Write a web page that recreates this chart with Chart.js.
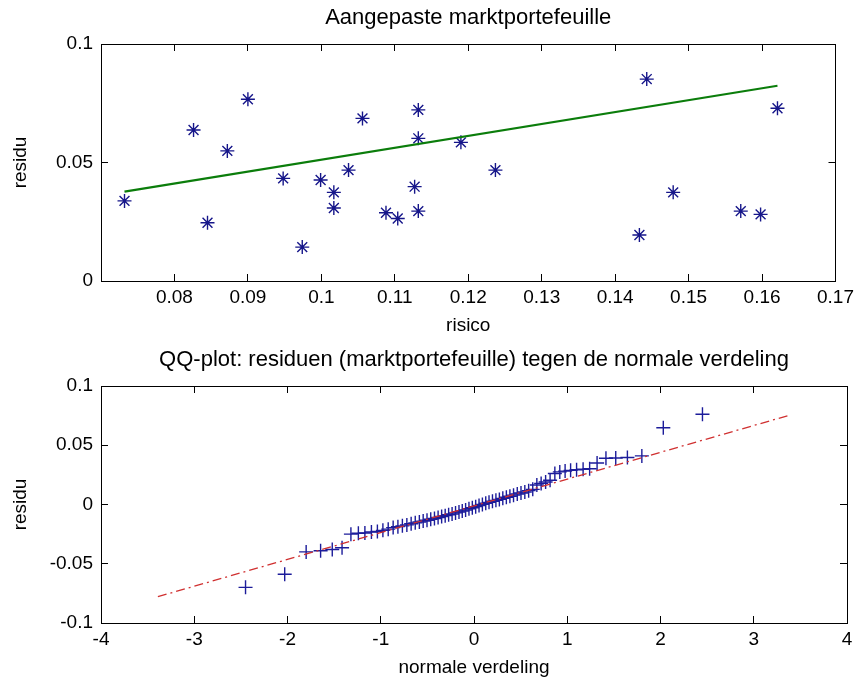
<!DOCTYPE html>
<html>
<head>
<meta charset="utf-8">
<title>Aangepaste marktportefeuille</title>
<script src="https://cdn.jsdelivr.net/npm/chart.js@4.4.1/dist/chart.umd.min.js"></script>
<style>
  body { margin: 0; background: #fff; }
  canvas { display: block; }
</style>
</head>
<body>
<canvas id="fitChart" width="866" height="342"></canvas>
<canvas id="qqChart" width="866" height="342"></canvas>
<script>
// top plot: risico vs residu
const risico = [0.0732, 0.0826, 0.0845, 0.0872, 0.0900, 0.0948, 0.0974, 0.0999, 0.1017, 0.1017,
  0.1037, 0.1056, 0.1088, 0.1104, 0.1127, 0.1132, 0.1132, 0.1132, 0.1190, 0.1237,
  0.1443, 0.1433, 0.1479, 0.1571, 0.1598, 0.1621];
const residu = [0.0338, 0.0637, 0.0246, 0.0549, 0.0767, 0.0433, 0.0143, 0.0426, 0.0374, 0.0308,
  0.0468, 0.0686, 0.0288, 0.0264, 0.0398, 0.0722, 0.0602, 0.0295, 0.0585, 0.0468,
  0.0852, 0.0194, 0.0374, 0.0295, 0.0281, 0.0729];
const fitX = [0.0732, 0.1621];
const fitY = [0.0377, 0.0824];
const riskTicks = [0.08, 0.09, 0.10, 0.11, 0.12, 0.13, 0.14, 0.15, 0.16, 0.17];
const riskTickLabels = ['0.08', '0.09', '0.1', '0.11', '0.12', '0.13', '0.14', '0.15', '0.16', '0.17'];
const residTicks = [0, 0.05, 0.1];
const residTickLabels = ['0', '0.05', '0.1'];

// bottom plot: QQ-plot of residuals
const qqX = [-2.45, -2.03, -1.80, -1.645, -1.52, -1.415, -1.32, -1.24, -1.17, -1.10,
  -1.036, -0.977, -0.92, -0.867, -0.816, -0.768, -0.72, -0.674, -0.63, -0.586,
  -0.545, -0.504, -0.464, -0.424, -0.385, -0.347, -0.309, -0.272, -0.235, -0.198,
  -0.161, -0.126, -0.09, -0.054, -0.018, 0.018, 0.054, 0.09, 0.126, 0.161,
  0.198, 0.235, 0.272, 0.309, 0.347, 0.385, 0.424, 0.464, 0.504, 0.545,
  0.586, 0.63, 0.674, 0.72, 0.768, 0.816, 0.867, 0.92, 0.977, 1.036,
  1.10, 1.17, 1.24, 1.32, 1.415, 1.52, 1.645, 1.80, 2.03, 2.45];
const qqY = [-0.0699, -0.0589, -0.0400, -0.0390, -0.0380, -0.0365, -0.0250, -0.0243, -0.0240, -0.0232,
  -0.0228, -0.0218, -0.0208, -0.0195, -0.0187, -0.0180, -0.0172, -0.0163, -0.0155, -0.0148,
  -0.0140, -0.0133, -0.0125, -0.0118, -0.0110, -0.0101, -0.0094, -0.0087, -0.0080, -0.0071,
  -0.0063, -0.0055, -0.0046, -0.0036, -0.0027, -0.0018, -0.0008, 0.0001, 0.0010, 0.0018,
  0.0027, 0.0035, 0.0043, 0.0052, 0.0061, 0.0070, 0.0079, 0.0088, 0.0097, 0.0106,
  0.0117, 0.0128, 0.0165, 0.0178, 0.0190, 0.0205, 0.0262, 0.0275, 0.0282, 0.0288,
  0.0293, 0.0298, 0.0302, 0.0350, 0.0390, 0.0393, 0.0397, 0.0410, 0.0648, 0.0761];
const refX = [-3.39, 3.39];
const refY = [-0.0778, 0.0755];
const normTicks = [-4, -3, -2, -1, 0, 1, 2, 3, 4];
const normTickLabels = ['-4', '-3', '-2', '-1', '0', '1', '2', '3', '4'];
const qqTicks = [-0.1, -0.05, 0, 0.05, 0.1];
const qqTickLabels = ['-0.1', '-0.05', '0', '0.05', '0.1'];

const FONT = { family: '"Liberation Sans", Arial, sans-serif', size: 19, weight: 'normal' };
const TITLE_FONT = { family: '"Liberation Sans", Arial, sans-serif', size: 22, weight: 'normal' };

// matlab style box axis with inward ticks
function axis(pos, min, max, vals, labels, size, title, titlePad) {
  const horiz = pos === 'top' || pos === 'bottom';
  return {
    type: 'linear', position: pos, min: min, max: max,
    afterBuildTicks: s => { s.ticks = vals.map(v => ({ value: v })); },
    afterFit: s => { if (horiz) s.height = size; else s.width = size; },
    grid: { drawOnChartArea: false, drawTicks: true, tickLength: -7, color: '#000', lineWidth: 1 },
    border: { display: true, color: '#000', width: 1 },
    ticks: {
      display: !!labels, autoSkip: false, maxRotation: 0, color: '#000', font: FONT,
      padding: horiz ? 12 : 15,
      callback: (v, i) => labels ? labels[i] : ''
    },
    title: title ? { display: true, text: title, color: '#000', font: FONT, padding: titlePad } : { display: false }
  };
}

function pairs(xs, ys) {
  return xs.map((x, i) => ({ x: x, y: ys[i] }));
}

function makeChart(id, cfg) {
  return new Chart(document.getElementById(id), {
    type: 'scatter',
    data: { datasets: cfg.datasets },
    options: {
      responsive: false, animation: false,
      layout: { padding: 0 },
      plugins: {
        legend: { display: false }, tooltip: { enabled: false },
        title: { display: true, fullSize: false, text: cfg.title, color: '#000', font: TITLE_FONT, padding: { top: 5, bottom: 12.6 } }
      },
      scales: {
        x: axis('bottom', cfg.xMin, cfg.xMax, cfg.xTicks, cfg.xLabels, 61, cfg.xTitle, { bottom: 5 }),
        x2: axis('top', cfg.xMin, cfg.xMax, cfg.xTicks, null, 0),
        y: axis('left', cfg.yMin, cfg.yMax, cfg.yTicks, cfg.yLabels, 101, 'residu', { top: 9 }),
        y2: axis('right', cfg.yMin, cfg.yMax, cfg.yTicks, null, 19)
      }
    }
  });
}

makeChart('fitChart', {
  title: 'Aangepaste marktportefeuille',
  xMin: 0.07, xMax: 0.17, xTicks: riskTicks, xLabels: riskTickLabels, xTitle: 'risico',
  yMin: 0, yMax: 0.1, yTicks: residTicks, yLabels: residTickLabels,
  datasets: [
    { data: pairs(fitX, fitY), showLine: true, borderColor: '#0b7d0b', borderWidth: 2.2, pointRadius: 0, fill: false },
    { data: pairs(risico, residu), pointStyle: 'star', pointRadius: 7, borderColor: '#16168a', backgroundColor: '#16168a', pointBorderWidth: 1.4 }
  ]
});

makeChart('qqChart', {
  title: 'QQ-plot: residuen (marktportefeuille) tegen de normale verdeling',
  xMin: -4, xMax: 4, xTicks: normTicks, xLabels: normTickLabels, xTitle: 'normale verdeling',
  yMin: -0.1, yMax: 0.1, yTicks: qqTicks, yLabels: qqTickLabels,
  datasets: [
    { data: pairs(refX, refY), showLine: true, borderColor: '#d03030', borderWidth: 1.3, borderDash: [9, 4, 2, 4], pointRadius: 0, fill: false },
    { data: pairs(qqX, qqY), pointStyle: 'cross', pointRadius: 7, borderColor: '#1c1c9a', backgroundColor: '#1c1c9a', pointBorderWidth: 1.4 }
  ]
});
</script>
</body>
</html>
